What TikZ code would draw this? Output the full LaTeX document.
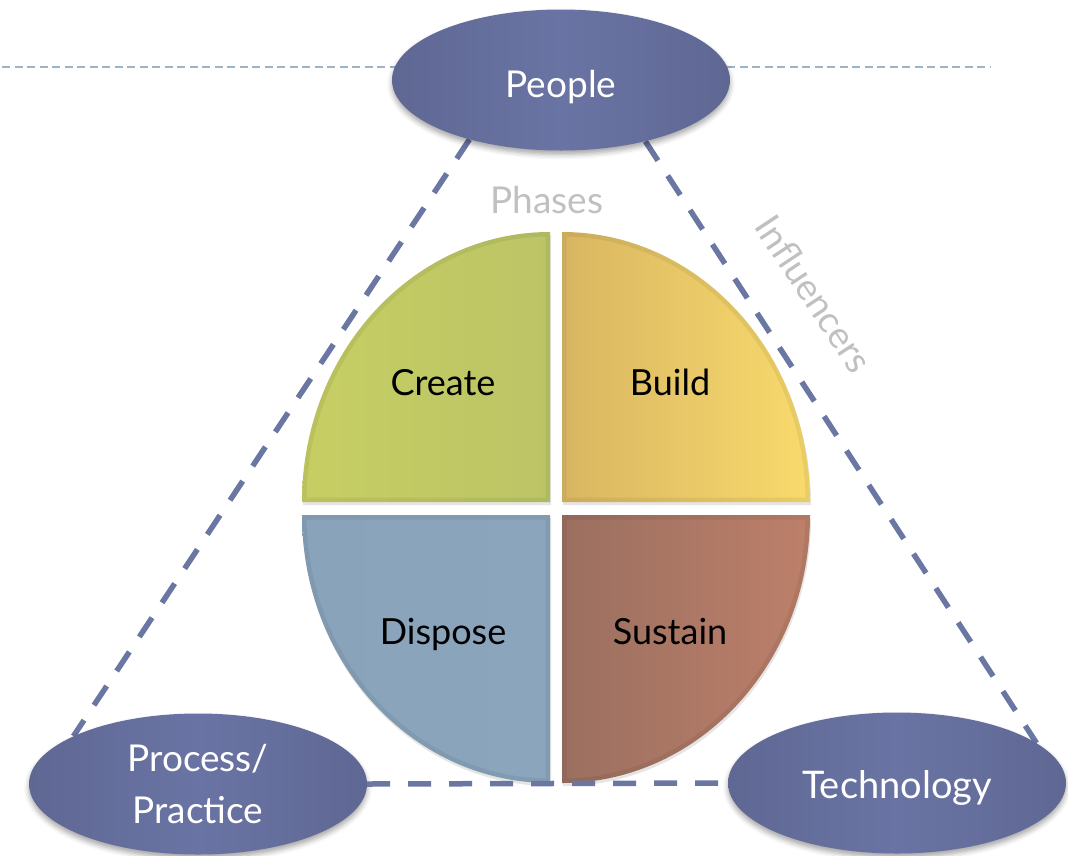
\documentclass[tikz,border=0pt]{standalone}
\usepackage{fontspec}
\setmainfont{Lato}
\usetikzlibrary{shapes.geometric,shadows.blur}
\definecolor{ellmid}{HTML}{6A74A4}
\definecolor{ellside}{HTML}{5F6893}
\definecolor{dashcol}{HTML}{6B77A3}
\definecolor{toplinecol}{HTML}{9CB4C9}
\definecolor{greytext}{HTML}{C0C0C0}
\definecolor{crA}{HTML}{C6CE63}
\definecolor{crB}{HTML}{D4DD6E}
\definecolor{crC}{HTML}{BCC466}
\definecolor{buA}{HTML}{D8B662}
\definecolor{buB}{HTML}{F0D06B}
\definecolor{buC}{HTML}{F8DA6C}
\definecolor{diA}{HTML}{88A3BA}
\definecolor{diB}{HTML}{95B3CC}
\definecolor{diC}{HTML}{8AA5BC}
\definecolor{suA}{HTML}{9B6F60}
\definecolor{suB}{HTML}{B07A66}
\definecolor{suC}{HTML}{BD806A}
\pgfdeclarelayer{back}
\pgfsetlayers{back,main}
\begin{document}
\begin{tikzpicture}[x=1pt,y=-1pt,
  ell/.style={ellipse, minimum width=338pt, minimum height=141pt, inner sep=0pt,
    text=white, font=\fontsize{37}{52}\selectfont,
    left color=ellside, right color=ellside, middle color=ellmid,
    blur shadow={shadow xshift=0pt, shadow yshift=-4pt, shadow blur radius=5pt, shadow opacity=35}},
  link/.style={draw=dashcol, line width=5.5pt, dash pattern=on 23pt off 18pt},
  qlabel/.style={anchor=base, font=\fontsize{36}{40}\selectfont, text=black, inner sep=0pt},
  greylabel/.style={font=\fontsize{37}{40}\selectfont, text=greytext, inner sep=0pt},
  qshadow/.style={fill=black, fill opacity=0.10},
  rim/.style={line width=9pt, draw=black, draw opacity=0.06}
]
\useasboundingbox (0,0) rectangle (1068,855);

\draw[toplinecol, line width=2.8pt, dash pattern=on 8pt off 4.5pt] (2,67) -- (990,67);

% Create
\fill[qshadow] (551,505) -- (303,505) arc[start angle=180,end angle=270,x radius=248,y radius=270] -- cycle;
\shade[left color=crA, middle color=crB, right color=crC] (550,502) -- (302,502) arc[start angle=180,end angle=270,x radius=248,y radius=270] -- cycle;
\begin{scope}
  \clip (550,502) -- (302,502) arc[start angle=180,end angle=270,x radius=248,y radius=270] -- cycle;
  \draw[rim] (550,502) -- (302,502) arc[start angle=180,end angle=270,x radius=248,y radius=270] -- cycle;
\end{scope}
% Build
\fill[qshadow] (563,505) -- (563,235) arc[start angle=270,end angle=360,x radius=248,y radius=270] -- cycle;
\shade[left color=buA, middle color=buB, right color=buC] (562,502) -- (562,232) arc[start angle=270,end angle=360,x radius=248,y radius=270] -- cycle;
\begin{scope}
  \clip (562,502) -- (562,232) arc[start angle=270,end angle=360,x radius=248,y radius=270] -- cycle;
  \draw[rim] (562,502) -- (562,232) arc[start angle=270,end angle=360,x radius=248,y radius=270] -- cycle;
\end{scope}
% Dispose
\fill[qshadow] (551,518) -- (303,518) arc[start angle=180,end angle=90,x radius=248,y radius=268] -- cycle;
\shade[left color=diA, middle color=diB, right color=diC] (550,515) -- (302,515) arc[start angle=180,end angle=90,x radius=248,y radius=268] -- cycle;
\begin{scope}
  \clip (550,515) -- (302,515) arc[start angle=180,end angle=90,x radius=248,y radius=268] -- cycle;
  \draw[rim] (550,515) -- (302,515) arc[start angle=180,end angle=90,x radius=248,y radius=268] -- cycle;
\end{scope}
% Sustain
\fill[qshadow] (563,518) -- (811,518) arc[start angle=0,end angle=90,x radius=248,y radius=268] -- cycle;
\shade[left color=suA, middle color=suB, right color=suC] (562,515) -- (810,515) arc[start angle=0,end angle=90,x radius=248,y radius=268] -- cycle;
\begin{scope}
  \clip (562,515) -- (810,515) arc[start angle=0,end angle=90,x radius=248,y radius=268] -- cycle;
  \draw[rim] (562,515) -- (810,515) arc[start angle=0,end angle=90,x radius=248,y radius=268] -- cycle;
\end{scope}

\node[ell, text height=34pt, text depth=0pt] (people) at (561,80) {People};
\node[ell, align=center] (process) at (198,784) {Process/\\Practice};
\node[ell, text height=30pt, text depth=0pt, font=\fontsize{38}{52}\selectfont] (tech) at (897,783) {Technology};

\begin{pgfonlayer}{back}
  \draw[link] (people.213) -- (process.159);
  \draw[link] (people.324.5) -- (tech.16);
\end{pgfonlayer}
\draw[link] (process.east) -- (tech.west);

\node[qlabel] (create) at (443,395) {Create};
\node[qlabel] (build) at (670,395) {Build};
\node[qlabel] (dispose) at (443,644) {Dispose};
\node[qlabel] (sustain) at (670,644) {Sustain};

\node[greylabel, anchor=base] (phases) at (547,213) {Phases};
\node[greylabel, rotate=-56.5] (influencers) at (814,294) {Influencers};
\end{tikzpicture}
\end{document}
